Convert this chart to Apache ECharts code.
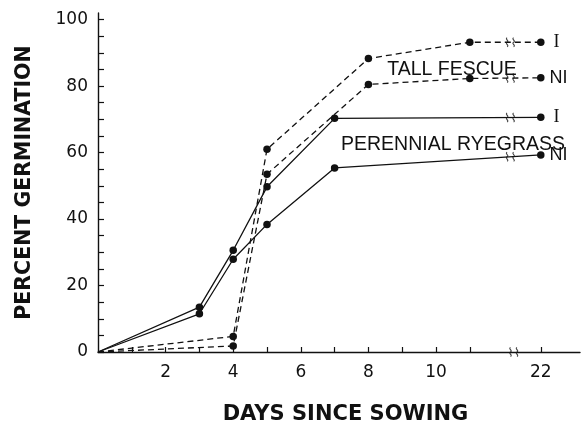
<!DOCTYPE html>
<html>
<head>
<meta charset="utf-8">
<script src="https://cdn.jsdelivr.net/npm/echarts@6/dist/echarts.min.js"></script>
<style>html,body{margin:0;padding:0;background:#fff}#c{width:581px;height:430px}</style>
</head>
<body>
<div id="c"></div>
<script>
// ---- data ----
const fescueDays = [0, 4, 5, 8, 11, 22];
const fescueI    = [0, 4.7, 61, 88.3, 93.2, 93.2];
const fescueNI   = [0, 1.8, 53.5, 80.5, 82.3, 82.5];
const ryeDays    = [0, 3, 4, 5, 7, 22];
const ryeI       = [0, 13.5, 30.6, 49.7, 70.3, 70.6];
const ryeNI      = [0, 11.5, 27.9, 38.4, 55.4, 59.3];
const xTickLabels = [2, 4, 6, 8, 10, 22];
const yTickLabels = [0, 20, 40, 60, 80, 100];
const seriesTags = ['I', 'NI', 'I', 'NI'];

// broken x axis: days up to 11 are linear, 22 is drawn just after the break
const POS22 = 13.1, BREAK_POS = 12.2;
function pos(d) { return d <= 12 ? d : POS22 + (d - 22); }
function unpos(p) { return Math.abs(p - POS22) < 0.01 ? 22 : Math.round(p); }

const BLACK = '#111';
const breakPath = 'path://M2,0 C0,2 4,4 2,6 C0,8 4,10 2,12 M7,0 C5,2 9,4 7,6 C5,8 9,10 7,12';

function buildData(days, vals) {
  return days.map((d, i) => i === 0
    ? { value: [pos(d), vals[i]], symbol: 'none' }
    : { value: [pos(d), vals[i]] });
}
function breakY(days, vals) {
  const n = days.length;
  const x0 = pos(days[n - 2]), x1 = pos(days[n - 1]);
  const y0 = vals[n - 2], y1 = vals[n - 1];
  return y0 + (y1 - y0) * (BREAK_POS - x0) / (x1 - x0);
}

function lineSeries(name, days, vals, dashed, tag) {
  const data = buildData(days, vals);
  const last = data[data.length - 1];
  last.label = {
    show: true, position: 'right', distance: tag === 'I' ? 9 : 5,
    formatter: tag, color: BLACK, fontSize: 18,
    fontFamily: tag === 'I' ? 'Liberation Serif' : 'Liberation Sans'
  };
  return {
    name, type: 'line', data,
    symbol: 'circle', symbolSize: 7.5,
    itemStyle: { color: BLACK },
    lineStyle: { color: BLACK, width: 1.3, type: dashed ? [6, 4] : 'solid' },
    label: { show: false },
    silent: true, animation: false, z: 3
  };
}

const breakMarks = [
  [BREAK_POS, breakY(fescueDays, fescueI)],
  [BREAK_POS, breakY(fescueDays, fescueNI)],
  [BREAK_POS, breakY(ryeDays, ryeI)],
  [BREAK_POS, breakY(ryeDays, ryeNI)],
  [BREAK_POS + 0.1, 0]
];

const xTicks = [];
for (let d = 1; d <= 11; d++) xTicks.push(d);
xTicks.push(POS22);
const yTicks = [];
for (let v = 0; v <= 100; v += 5) yTicks.push(v);

const chart = echarts.init(document.getElementById('c'), null, { renderer: 'canvas' });
chart.setOption({
  animation: false,
  backgroundColor: '#fff',
  grid: { left: 98, right: 1, top: 13, bottom: 66, containLabel: false },
  xAxis: {
    type: 'value', min: 0, max: 14.26,
    name: 'DAYS SINCE SOWING', nameLocation: 'middle', nameGap: 52,
    nameTextStyle: { fontFamily: 'DejaVu Sans', fontWeight: 'bold', fontSize: 21, color: BLACK, padding: [0, 0, 0, 13] },
    axisLine: { show: true, onZero: false, lineStyle: { color: BLACK, width: 1.4 } },
    axisTick: { show: true, inside: true, length: 5, customValues: xTicks, lineStyle: { color: BLACK, width: 1.2 } },
    axisLabel: {
      customValues: xTickLabels.map(pos), formatter: v => String(unpos(v)),
      color: BLACK, fontFamily: 'DejaVu Sans', fontSize: 17, margin: 12
    },
    splitLine: { show: false }
  },
  yAxis: {
    type: 'value', min: 0, max: 102,
    name: 'PERCENT GERMINATION', nameLocation: 'middle', nameGap: 63, nameRotate: 90,
    nameTextStyle: { fontFamily: 'DejaVu Sans', fontWeight: 'bold', fontSize: 20.5, color: BLACK },
    axisLine: { show: true, lineStyle: { color: BLACK, width: 1.4 } },
    axisTick: { show: true, inside: true, length: 6, customValues: yTicks, lineStyle: { color: BLACK, width: 1.2 } },
    axisLabel: {
      customValues: yTickLabels, color: BLACK, fontFamily: 'DejaVu Sans', fontSize: 17, margin: 10
    },
    splitLine: { show: false }
  },
  graphic: [
    { type: 'text', x: 452, y: 70, style: { text: 'TALL FESCUE', fill: BLACK, font: '19.5px "Liberation Sans"', align: 'center', verticalAlign: 'middle' }, z: 10 },
    { type: 'text', x: 453, y: 145, style: { text: 'PERENNIAL RYEGRASS', fill: BLACK, font: '19.5px "Liberation Sans"', align: 'center', verticalAlign: 'middle' }, z: 10 }
  ],
  series: [
    lineSeries('Tall fescue I', fescueDays, fescueI, true, seriesTags[0]),
    lineSeries('Tall fescue NI', fescueDays, fescueNI, true, seriesTags[1]),
    lineSeries('Perennial ryegrass I', ryeDays, ryeI, false, seriesTags[2]),
    lineSeries('Perennial ryegrass NI', ryeDays, ryeNI, false, seriesTags[3]),
    {
      name: 'breaks', type: 'scatter', data: breakMarks,
      symbol: breakPath, symbolSize: [8, 9], z: 4, silent: true,
      itemStyle: { color: 'rgba(0,0,0,0)', borderColor: BLACK, borderWidth: 1.1 }
    }
  ]
});
</script>
</body>
</html>
